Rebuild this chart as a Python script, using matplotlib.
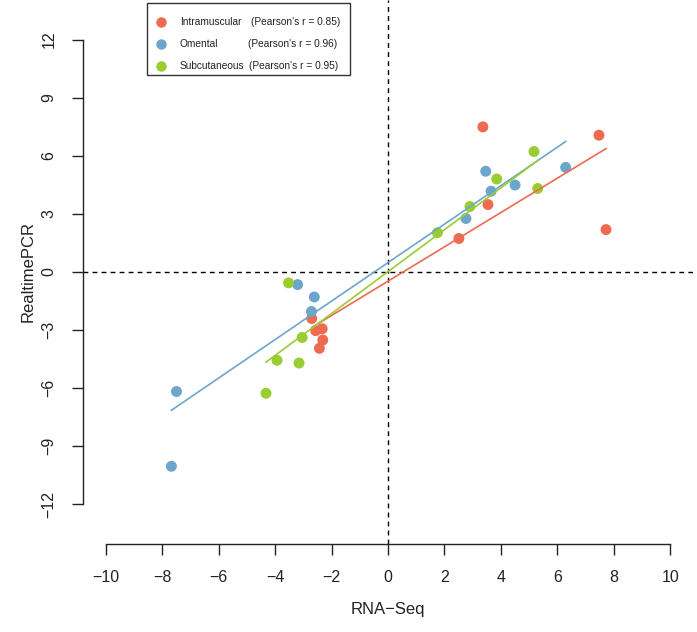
import numpy as np
import matplotlib
matplotlib.use("Agg")
import matplotlib.pyplot as plt
from matplotlib.patches import Rectangle
from matplotlib.lines import Line2D

plt.rcParams['font.family'] = ['Liberation Sans', 'DejaVu Sans']

# Data (RNA-Seq log fold change vs RealtimePCR)
intra_x = [3.36, 7.47, 7.72, 3.54, 2.51, -2.70, -2.56, -2.33, -2.31, -2.43]
intra_y = [7.49, 7.06, 2.19, 3.48, 1.73, -2.40, -3.03, -2.93, -3.51, -3.94]
oment_x = [6.29, 3.46, 4.50, 3.65, 2.76, -3.20, -2.61, -2.71, -7.49, -7.67]
oment_y = [5.40, 5.20, 4.49, 4.17, 2.76, -0.65, -1.29, -2.04, -6.17, -10.03]
subc_x = [5.17, 3.85, 5.30, 2.90, 1.75, -3.52, -3.04, -3.93, -3.15, -4.32]
subc_y = [6.22, 4.80, 4.31, 3.38, 2.03, -0.56, -3.38, -4.56, -4.70, -6.26]

groups = ["Intramuscular", "Omental", "Subcutaneous"]
pearson = ["(Pearson's r = 0.85)", "(Pearson's r = 0.96)", "(Pearson's r = 0.95)"]
colors = ["#EE6A50", "#6CA6CD", "#9ACD32"]
xs = [intra_x, oment_x, subc_x]
ys = [intra_y, oment_y, subc_y]

xticks = [-10, -8, -6, -4, -2, 0, 2, 4, 6, 8, 10]
yticks = [-12, -9, -6, -3, 0, 3, 6, 9, 12]

W, H = 697, 632
fig = plt.figure(figsize=(W / 100, H / 100), dpi=100)
ax = fig.add_axes([83 / W, 1 - 544 / H, 610 / W, 544 / H])
ax.set_xlim(-10.8, 10.8)
ax.set_ylim(-14.04, 14.04)

for sp in ["top", "right"]:
    ax.spines[sp].set_visible(False)
for sp in ["left", "bottom"]:
    ax.spines[sp].set_linewidth(1.0)
    ax.spines[sp].set_color("#222222")
ax.spines["left"].set_bounds(-12, 12)
ax.spines["bottom"].set_bounds(-10, 10)

ax.set_xticks(xticks)
ax.set_xticklabels([str(t).replace("-", "\u2212") for t in xticks])
ax.set_yticks(yticks)
ax.set_yticklabels([str(t).replace("-", "\u2212") for t in yticks], rotation=90, va="center")
ax.tick_params(axis="both", length=8, width=1.0, color="#222222", labelsize=11.5, labelcolor="#222222")
ax.tick_params(axis="x", pad=11)
ax.tick_params(axis="y", pad=11)

ax.axhline(0, color="black", linestyle=(0, (3.5, 3)), linewidth=1.0, zorder=1)
ax.axvline(0, color="black", linestyle=(0, (3.5, 3)), linewidth=1.0, zorder=1)

for x, y, c in zip(xs, ys, colors):
    x = np.array(x); y = np.array(y)
    ax.scatter(x, y, s=62, color=c, edgecolors="none", zorder=3, clip_on=False)
for x, y, c in zip(xs, ys, colors):
    x = np.array(x); y = np.array(y)
    b, a = np.polyfit(x, y, 1)
    xx = np.array([x.min(), x.max()])
    ax.plot(xx, a + b * xx, color=c, linewidth=1.2, zorder=4)

ax.set_xlabel("RNA\u2212Seq", fontsize=12, color="#222222", labelpad=12)
ax.set_ylabel("RealtimePCR", fontsize=12, color="#222222", labelpad=4)

# Legend drawn in pixel coordinates
def fx(px):
    return px / W
def fy(py):
    return 1 - py / H

fig.patches.append(Rectangle((fx(147), fy(75)), fx(350) - fx(147), fy(3) - fy(75),
                             transform=fig.transFigure, facecolor="white",
                             edgecolor="#333333", linewidth=1.0, zorder=10))
rows = [22, 44, 66]
pstart = [251, 248, 249]
for g, p, c, r, ps in zip(groups, pearson, colors, rows, pstart):
    fig.add_artist(Line2D([fx(161)], [fy(r)], marker="o", markersize=7.5, color=c,
                          markeredgewidth=0, linestyle="none", transform=fig.transFigure, zorder=11))
    fig.text(fx(180), fy(r), g, fontsize=7.3, va="center", ha="left", color="#222222", zorder=11)
    fig.text(fx(ps), fy(r), p, fontsize=7.3, va="center", ha="left", color="#222222", zorder=11)

fig.savefig("out.png", dpi=100)
